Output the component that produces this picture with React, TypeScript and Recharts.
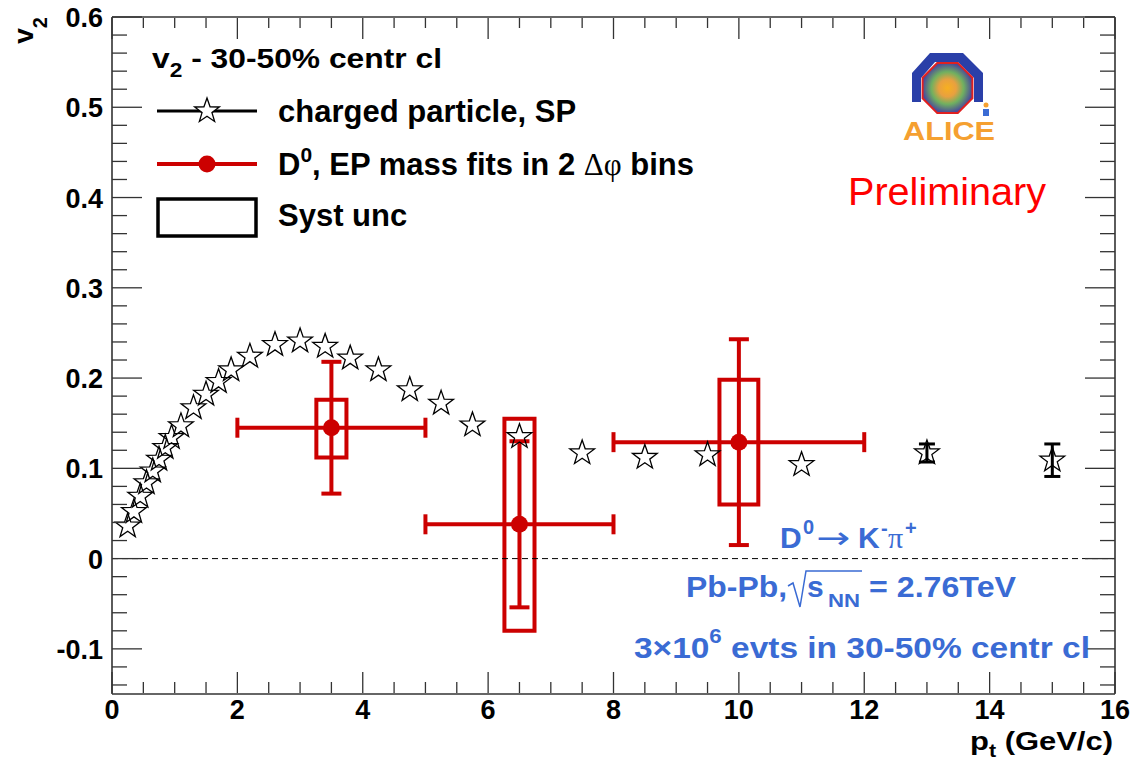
import React from "react";
import {
  ComposedChart,
  Scatter,
  XAxis,
  YAxis,
  ErrorBar,
  ReferenceArea,
  ReferenceLine,
} from "recharts";

// ---------- data ----------
const starPt = [0.25, 0.35, 0.45, 0.55, 0.65, 0.75, 0.85, 0.95, 1.1, 1.3, 1.5, 1.7, 1.9, 2.2, 2.6, 3.0, 3.4, 3.8, 4.25, 4.75, 5.25, 5.75, 6.5, 7.5, 8.5, 9.5, 11, 13, 15];
const starV2 = [0.036, 0.052, 0.069, 0.084, 0.097, 0.110, 0.123, 0.134, 0.147, 0.167, 0.182, 0.196, 0.209, 0.224, 0.237, 0.241, 0.235, 0.222, 0.209, 0.187, 0.172, 0.148, 0.135, 0.117, 0.112, 0.115, 0.104, 0.117, 0.109];
const starStatErr = [null, null, null, null, null, null, null, null, null, null, null, null, null, null, null, null, null, null, null, null, null, null, null, null, null, null, null, 0.010, 0.018];

const d0Pt = [3.5, 6.5, 10];
const d0V2 = [0.145, 0.038, 0.129];
const d0PtHalfBin = [1.5, 1.5, 2];
const d0StatErr = [0.073, 0.092, 0.114];
const d0SystLow = [0.112, -0.080, 0.060];
const d0SystHigh = [0.176, 0.155, 0.198];
const d0SystHalfWidth = [0.24, 0.24, 0.31];

const xTicks = [0, 0.5, 1, 1.5, 2, 2.5, 3, 3.5, 4, 4.5, 5, 5.5, 6, 6.5, 7, 7.5, 8, 8.5, 9, 9.5, 10, 10.5, 11, 11.5, 12, 12.5, 13, 13.5, 14, 14.5, 15, 15.5, 16];
const xTickLabels = [0, 2, 4, 6, 8, 10, 12, 14, 16];
const yTicks = [-0.14, -0.12, -0.1, -0.08, -0.06, -0.04, -0.02, 0, 0.02, 0.04, 0.06, 0.08, 0.1, 0.12, 0.14, 0.16, 0.18, 0.2, 0.22, 0.24, 0.26, 0.28, 0.3, 0.32, 0.34, 0.36, 0.38, 0.4, 0.42, 0.44, 0.46, 0.48, 0.5, 0.52, 0.54, 0.56, 0.58, 0.6];
const yTickLabels = [-0.1, 0, 0.1, 0.2, 0.3, 0.4, 0.5, 0.6];

const starData = starPt.map((x, i) => ({ x, y: starV2[i], err: starStatErr[i] }));
const d0Data = d0Pt.map((x, i) => ({ x, y: d0V2[i], ex: d0PtHalfBin[i], ey: d0StatErr[i] }));

// ---------- styles ----------
const FONT = "'Liberation Sans', Arial, Helvetica, sans-serif";
const SERIF = "'Liberation Serif', 'DejaVu Serif', serif";
const RED = "#cc0000";
const BLUE = "#3a6bd4";
const FRAME = "#333";

function starPath(cx: number, cy: number, R: number) {
  const r = R * 0.4;
  let d = "";
  for (let i = 0; i < 10; i++) {
    const a = ((-90 + i * 36) * Math.PI) / 180;
    const rad = i % 2 === 0 ? R : r;
    d += (i === 0 ? "M" : "L") + (cx + rad * Math.cos(a)).toFixed(2) + "," + (cy + rad * Math.sin(a)).toFixed(2);
  }
  return d + "Z";
}

const StarShape = (props: any) => {
  const { cx, cy } = props;
  if (cx == null || cy == null) return null;
  return <path d={starPath(cx, cy, 13)} fill="none" stroke="#000" strokeWidth={1.3} />;
};

const D0Dot = (props: any) => {
  const { cx, cy } = props;
  if (cx == null || cy == null) return null;
  return <circle cx={cx} cy={cy} r={8.5} fill={RED} />;
};

const BottomTick = (props: any) => {
  const { x, y, payload } = props;
  const v = payload.value;
  const major = xTickLabels.includes(v);
  const y0 = y - 1;
  return (
    <g>
      <line x1={x} x2={x} y1={y0} y2={y0 - (major ? 21 : 11)} stroke={FRAME} strokeWidth={1.3} />
      {major && (
        <text x={x} y={y0 + 26} textAnchor="middle" fontFamily={FONT} fontWeight="bold" fontSize={27} fill="#000">
          {String(v)}
        </text>
      )}
    </g>
  );
};

const TopTick = (props: any) => {
  const { x, y, payload } = props;
  const major = xTickLabels.includes(payload.value);
  const y0 = y + 1;
  return <line x1={x} x2={x} y1={y0} y2={y0 + (major ? 21 : 10)} stroke={FRAME} strokeWidth={1.3} />;
};

const LeftTick = (props: any) => {
  const { x, y, payload } = props;
  const v = payload.value;
  const major = yTickLabels.includes(v);
  return (
    <g>
      <line x1={x} x2={x + (major ? 30 : 15)} y1={y} y2={y} stroke={FRAME} strokeWidth={1.3} />
      {major && (
        <text x={x - 9} y={y + 10} textAnchor="end" fontFamily={FONT} fontWeight="bold" fontSize={27} fill="#000">
          {v === 0 ? "0" : String(v)}
        </text>
      )}
    </g>
  );
};

const RightTick = (props: any) => {
  const { x, y, payload } = props;
  const major = yTickLabels.includes(payload.value);
  return <line x1={x} x2={x - (major ? 30 : 15)} y1={y} y2={y} stroke={FRAME} strokeWidth={1.3} />;
};

const axisLine = { stroke: FRAME, strokeWidth: 1.6 };

function octagon(cx: number, cy: number, r: number) {
  const pts: string[] = [];
  for (let i = 0; i < 8; i++) {
    const a = ((22.5 + i * 45) * Math.PI) / 180;
    pts.push((cx + r * Math.cos(a)).toFixed(1) + "," + (cy + r * Math.sin(a)).toFixed(1));
  }
  return pts.join(" ");
}

const Overlay = () => (
  <svg width={1146} height={760} style={{ position: "absolute", left: 0, top: 0, pointerEvents: "none" }}>
    <defs>
      <radialGradient id="aliceCore" cx="50%" cy="50%" r="50%">
        <stop offset="0%" stopColor="#f7b020" />
        <stop offset="35%" stopColor="#e8a040" />
        <stop offset="65%" stopColor="#70b060" />
        <stop offset="100%" stopColor="#4a4a9a" />
      </radialGradient>
    </defs>

    {/* y axis title */}
    <text transform="translate(33,17) rotate(-90)" textAnchor="end" fontFamily={FONT} fontWeight="bold" fontSize={28} fill="#000">
      v<tspan dy={14} fontSize={20}>2</tspan>
    </text>

    {/* x axis title */}
    <text x={970} y={750} fontFamily={FONT} fontWeight="bold" fontSize={26} fill="#000" textLength={143} lengthAdjust="spacingAndGlyphs">
      p<tspan dy={7} fontSize={18}>t</tspan>
      <tspan dy={-7}> (GeV/c)</tspan>
    </text>

    {/* header */}
    <text x={152} y={68} fontFamily={FONT} fontWeight="bold" fontSize={28} fill="#000" textLength={290} lengthAdjust="spacingAndGlyphs">
      v<tspan dy={9} fontSize={20}>2</tspan>
      <tspan dy={-9}> - 30-50% centr cl</tspan>
    </text>

    {/* legend */}
    <line x1={157} x2={257} y1={111} y2={111} stroke="#000" strokeWidth={3} />
    <path d={starPath(207, 111, 13)} fill="#fff" stroke="#000" strokeWidth={1.3} />
    <text x={278} y={122} fontFamily={FONT} fontWeight="bold" fontSize={31} fill="#000">
      charged particle, SP
    </text>

    <line x1={157} x2={257} y1={164} y2={164} stroke={RED} strokeWidth={4} />
    <circle cx={207} cy={164} r={8.5} fill={RED} />
    <text x={278} y={175} fontFamily={FONT} fontWeight="bold" fontSize={31} fill="#000">
      D<tspan dy={-13} fontSize={21}>0</tspan>
      <tspan dy={13}>, EP mass fits in 2 </tspan>
      <tspan fontFamily={SERIF} fontWeight="normal">Δφ</tspan>
      <tspan> bins</tspan>
    </text>

    <rect x={158} y={199} width={98} height={37} fill="none" stroke="#000" strokeWidth={3.5} />
    <text x={278} y={226} fontFamily={FONT} fontWeight="bold" fontSize={31} fill="#000">
      Syst unc
    </text>

    {/* Preliminary */}
    <text x={848} y={205} fontFamily={FONT} fontSize={38} fill="#ff0000" textLength={198} lengthAdjust="spacingAndGlyphs">
      Preliminary
    </text>

    {/* ALICE logo */}
    <polygon points="930,53 963,53 983,73 983,102 974,102 974,78 958,62 935,62 921,78 921,102 912,102 912,73" fill="#2a3fa8" />
    <polygon points={octagon(947.5, 88, 27)} fill="url(#aliceCore)" stroke="#e02020" strokeWidth={2} />
    <text x={903} y={140} fontFamily={FONT} fontWeight="bold" fontSize={25} fill="#f5a030" textLength={92} lengthAdjust="spacingAndGlyphs">
      ALICE
    </text>
    <circle cx={986} cy={105} r={2.5} fill="#f5a030" />
    <rect x={983} y={109} width={6} height={7} fill="#3a6bd4" />

    {/* decay channel */}
    <text x={780} y={548} fontFamily={FONT} fontWeight="bold" fontSize={30} fill={BLUE}>D</text>
    <text x={803} y={534} fontFamily={FONT} fontWeight="bold" fontSize={20} fill={BLUE}>0</text>
    <text x={816} y={548} fontFamily="'DejaVu Sans', sans-serif" fontSize={30} fill={BLUE} textLength={34} lengthAdjust="spacingAndGlyphs">→</text>
    <text x={858} y={548} fontFamily={FONT} fontWeight="bold" fontSize={30} fill={BLUE}>K</text>
    <text x={881} y={535} fontFamily={FONT} fontWeight="bold" fontSize={20} fill={BLUE}>-</text>
    <text x={888} y={548} fontFamily={SERIF} fontSize={30} fill={BLUE}>π</text>
    <text x={905} y={535} fontFamily={FONT} fontWeight="bold" fontSize={20} fill={BLUE}>+</text>

    {/* collision system */}
    <text x={686} y={597} fontFamily={FONT} fontWeight="bold" fontSize={30} fill={BLUE} textLength={101} lengthAdjust="spacingAndGlyphs">Pb-Pb,</text>
    <path d="M788,586 L793,583 L800,607 L806,571 L862,571" fill="none" stroke={BLUE} strokeWidth={1.5} />
    <text x={807} y={597} fontFamily={FONT} fontWeight="bold" fontSize={30} fill={BLUE}>s</text>
    <text x={828} y={607} fontFamily={FONT} fontWeight="bold" fontSize={19} fill={BLUE} textLength={32} lengthAdjust="spacingAndGlyphs">NN</text>
    <text x={869} y={597} fontFamily={FONT} fontWeight="bold" fontSize={30} fill={BLUE} textLength={147} lengthAdjust="spacingAndGlyphs">= 2.76TeV</text>

    {/* statistics */}
    <text x={634} y={658} fontFamily={FONT} fontWeight="bold" fontSize={30} fill={BLUE} textLength={456} lengthAdjust="spacingAndGlyphs">
      3×10<tspan dy={-15} fontSize={20}>6</tspan>
      <tspan dy={15}> evts in 30-50% centr cl</tspan>
    </text>
  </svg>
);

export default function App() {
  return (
    <div style={{ position: "absolute", left: 0, top: 0, width: 1146, height: 760, background: "#fff" }}>
      <ComposedChart width={1146} height={760} margin={{ top: 16, right: 30, bottom: 65, left: 111 }}>
        <XAxis
          xAxisId="b"
          dataKey="x"
          type="number"
          domain={[0, 16]}
          ticks={xTicks}
          interval={0}
          height={1}
          tickSize={0}
          tickMargin={0}
          tickLine={false}
          axisLine={axisLine}
          tick={(p: any) => <BottomTick {...p} />}
          allowDataOverflow
        />
        <XAxis
          xAxisId="t"
          orientation="top"
          dataKey="x"
          type="number"
          domain={[0, 16]}
          ticks={xTicks}
          interval={0}
          height={1}
          tickSize={0}
          tickMargin={0}
          tickLine={false}
          axisLine={axisLine}
          tick={(p: any) => <TopTick {...p} />}
          allowDataOverflow
        />
        <YAxis
          yAxisId="l"
          dataKey="y"
          type="number"
          domain={[-0.15, 0.6]}
          ticks={yTicks}
          interval={0}
          width={1}
          tickSize={0}
          tickMargin={0}
          tickLine={false}
          axisLine={axisLine}
          tick={(p: any) => <LeftTick {...p} />}
          allowDataOverflow
        />
        <YAxis
          yAxisId="r"
          orientation="right"
          dataKey="y"
          type="number"
          domain={[-0.15, 0.6]}
          ticks={yTicks}
          interval={0}
          width={1}
          tickSize={0}
          tickMargin={0}
          tickLine={false}
          axisLine={axisLine}
          tick={(p: any) => <RightTick {...p} />}
          allowDataOverflow
        />
        <ReferenceLine xAxisId="b" yAxisId="l" y={0} stroke="#000" strokeWidth={1} strokeDasharray="6 4" />
        <Scatter xAxisId="b" yAxisId="l" data={starData} shape={StarShape} isAnimationActive={false}>
          <ErrorBar dataKey="err" direction="y" width={8} stroke="#000" strokeWidth={3} isAnimationActive={false} />
        </Scatter>
        {d0Pt.map((x, i) => (
          <ReferenceArea
            key={"syst" + i}
            xAxisId="b"
            yAxisId="l"
            x1={x - d0SystHalfWidth[i]}
            x2={x + d0SystHalfWidth[i]}
            y1={d0SystLow[i]}
            y2={d0SystHigh[i]}
            fill="none"
            fillOpacity={0}
            stroke={RED}
            strokeWidth={4}
            strokeOpacity={1}
          />
        ))}
        <Scatter xAxisId="b" yAxisId="l" data={d0Data} shape={D0Dot} isAnimationActive={false}>
          <ErrorBar dataKey="ex" direction="x" width={10} stroke={RED} strokeWidth={4} isAnimationActive={false} />
          <ErrorBar dataKey="ey" direction="y" width={10} stroke={RED} strokeWidth={4} isAnimationActive={false} />
        </Scatter>
      </ComposedChart>
      <Overlay />
    </div>
  );
}
